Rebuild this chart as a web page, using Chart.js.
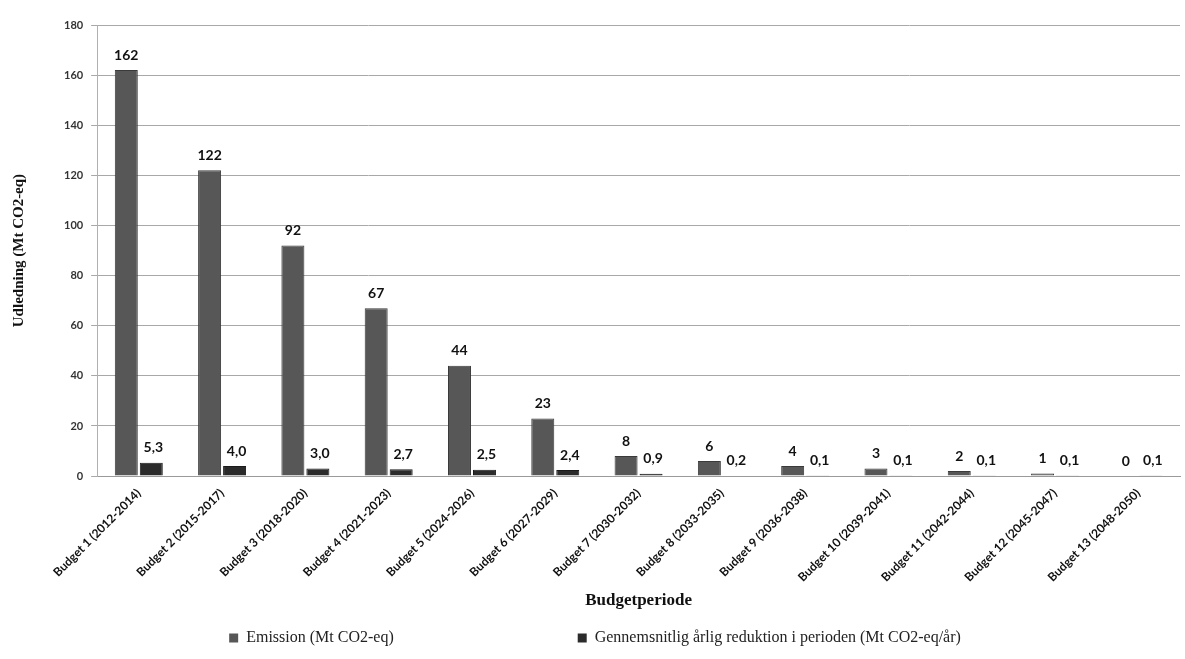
<!DOCTYPE html>
<html>
<head>
<meta charset="utf-8">
<script src="https://cdn.jsdelivr.net/npm/chart.js@4.4.1/dist/chart.umd.min.js"></script>
<style>
  html, body { margin: 0; padding: 0; background: #fff; }
  #wrap { width: 1185px; height: 659px; position: relative; }
</style>
</head>
<body>
<div id="wrap"><canvas id="budgetChart"></canvas></div>
<script>
// budgetperioder
const categories = [
  'Budget 1 (2012-2014)', 'Budget 2 (2015-2017)', 'Budget 3 (2018-2020)',
  'Budget 4 (2021-2023)', 'Budget 5 (2024-2026)', 'Budget 6 (2027-2029)',
  'Budget 7 (2030-2032)', 'Budget 8 (2033-2035)', 'Budget 9 (2036-2038)',
  'Budget 10 (2039-2041)', 'Budget 11 (2042-2044)', 'Budget 12 (2045-2047)',
  'Budget 13 (2048-2050)'
];

// udledning i hver periode
const emission = [162, 122, 92, 67, 44, 23, 8, 6, 4, 3, 2, 1, 0];

// gennemsnitlig årlig reduktion
const reduction = [5.3, 4.0, 3.0, 2.7, 2.5, 2.4, 0.9, 0.2, 0.1, 0.1, 0.1, 0.1, 0.1];

const yTicks = [0, 20, 40, 60, 80, 100, 120, 140, 160, 180];

const seriesNames = ['Emission (Mt CO2-eq)', 'Gennemsnitlig årlig reduktion i perioden (Mt CO2-eq/år)'];

// tal over søjlerne
const barLabels = {
  id: 'barLabels',
  afterDatasetsDraw(chart) {
    const ctx = chart.ctx;
    ctx.save();
    ctx.font = 'bold 14px Lato, "Open Sans", sans-serif';
    ctx.fillStyle = '#111';
    ctx.textAlign = 'center';
    ctx.textBaseline = 'bottom';
    chart.data.datasets.forEach((ds, i) => {
      const meta = chart.getDatasetMeta(i);
      meta.data.forEach((bar, j) => {
        const v = ds.data[j];
        const txt = i === 0 ? String(v) : v.toFixed(1).replace('.', ',');
        ctx.fillText(txt, bar.x + (i === 1 ? 2 : 0), bar.y - 8);
      });
    });
    ctx.restore();
  }
};

const canvas = document.getElementById('budgetChart');
canvas.width = 1185;
canvas.height = 659;

new Chart(canvas.getContext('2d'), {
  type: 'bar',
  data: {
    labels: categories,
    datasets: [
      {
        label: seriesNames[0],
        data: emission,
        backgroundColor: '#575757',
        borderColor: '#3a3a3a',
        borderWidth: 1,
        categoryPercentage: 0.6,
        barPercentage: 0.92
      },
      {
        label: seriesNames[1],
        data: reduction,
        backgroundColor: '#2b2b2b',
        borderColor: '#1a1a1a',
        borderWidth: 1,
        categoryPercentage: 0.6,
        barPercentage: 0.92
      }
    ]
  },
  options: {
    responsive: false,
    animation: false,
    devicePixelRatio: 1,
    layout: { padding: { top: 25, right: 5, left: 10, bottom: 3 } },
    scales: {
      x: {
        grid: { display: false },
        border: { color: '#9a9a9a' },
        ticks: {
          minRotation: 45,
          maxRotation: 45,
          color: '#111',
          font: { family: 'Lato, "Open Sans", sans-serif', weight: 'bold', size: 12 },
          padding: 2
        },
        title: {
          display: true,
          text: 'Budgetperiode',
          color: '#111',
          font: { family: '"Liberation Serif", "DejaVu Serif", serif', weight: 'bold', size: 17 },
          padding: { top: 4, bottom: 11 }
        }
      },
      y: {
        min: 0,
        max: 180,
        afterBuildTicks(axis) {
          axis.ticks = yTicks.map(v => ({ value: v }));
        },
        grid: { color: '#a8a8a8', lineWidth: 1, tickLength: 6 },
        border: { color: '#b0b0b0' },
        ticks: {
          color: '#333',
          font: { family: 'Lato, "Open Sans", sans-serif', weight: 'bold', size: 11 },
          padding: 8
        },
        title: {
          display: true,
          text: 'Udledning (Mt CO2-eq)',
          color: '#111',
          font: { family: '"Liberation Serif", "DejaVu Serif", serif', weight: 'bold', size: 15 },
          padding: { top: 0, bottom: 28 }
        }
      }
    },
    plugins: {
      legend: {
        position: 'bottom',
        labels: {
          boxWidth: 9,
          boxHeight: 9,
          padding: 8,
          color: '#222',
          font: { family: '"Liberation Serif", "DejaVu Serif", serif', size: 16 },
          generateLabels(chart) {
            const items = Chart.defaults.plugins.legend.labels.generateLabels(chart);
            items.forEach((it, i) => {
              it.lineWidth = 0;
              if (i === 0) it.text = it.text + '\u2003\u2003\u2003\u2003\u2003\u2003\u2003\u2003\u2003\u2003\u2003';
            });
            return items;
          }
        }
      },
      tooltip: { enabled: false }
    }
  },
  plugins: [barLabels]
});
</script>
</body>
</html>
